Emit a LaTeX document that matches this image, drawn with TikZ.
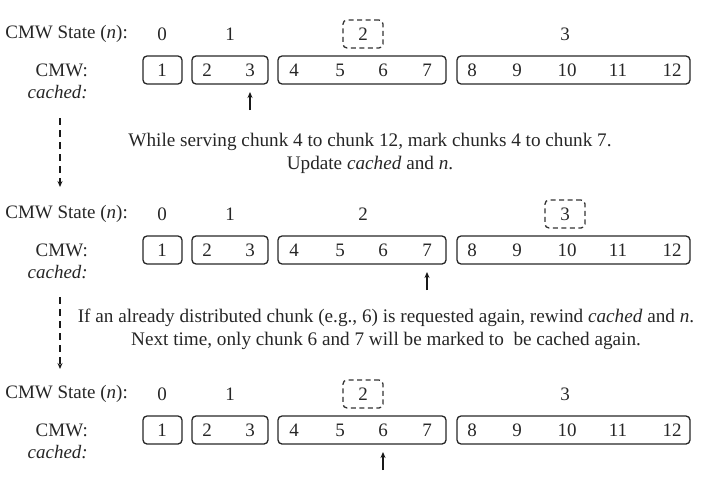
\documentclass[tikz,border=0pt]{standalone}
\usepackage{fontspec}
\setmainfont{Liberation Serif}
\usetikzlibrary{arrows.meta,calc}
\tikzset{
  lbl/.style={inner sep=0pt, font=\fontsize{19}{22}\selectfont, text=black!85},
  num/.style={lbl},
  chunkbox/.style={draw=black!85, line width=1.3pt, rounded corners=4pt, minimum height=28pt, inner sep=0pt},
  plain/.style={},
  dbox/.style={draw=black!80, dashed, dash pattern=on 5pt off 3.5pt, line width=1.3pt, rounded corners=4pt, minimum width=40pt, minimum height=28pt},
  uparr/.style={draw=black!90, line width=1.1pt, -{Stealth[length=6pt,width=5pt]}},
  darr/.style={draw=black!90, line width=1.1pt, dash pattern=on 7pt off 5pt, -{Stealth[length=6pt,width=5pt]}},
  note/.style={lbl, align=center, font=\fontsize{19.2}{23}\selectfont}
}
\newcommand\cmwrow[7]{%
\begin{scope}[shift={(0,#2)}]
  \node[lbl, anchor=east] (#1st) at (128,34) {CMW State (\textit{n}):};
  \node[lbl, anchor=east] (#1cmw) at (88,70) {CMW:};
  \node[lbl, anchor=east] (#1ca) at (88,92) {\textit{cached:}};
  \node[lbl,#3] (#1s0) at (162,34) {0};
  \node[lbl,#4] (#1s1) at (230,34) {1};
  \node[lbl,#5] (#1s2) at (363,34) {2};
  \node[lbl,#6] (#1s3) at (565,34) {3};
  \node[chunkbox, minimum width=39pt] (#1b1) at (162.5,70) {};
  \node[chunkbox, minimum width=76pt] (#1b2) at (230,70) {};
  \node[chunkbox, minimum width=168pt] (#1b3) at (362,70) {};
  \node[chunkbox, minimum width=233pt] (#1b4) at (573.5,70) {};
  \foreach \n/\x in {1/162,2/207,3/250,4/294,5/340,6/383,7/427,8/472,9/517,10/567,11/618,12/672}
    \node[num] (#1n\n) at (\x,70) {\n};
  \coordinate (#1tail) at ($(#1n#7)+(0,40)$);
  \coordinate (#1tip) at ($(#1n#7)+(0,22)$);
  \draw[uparr] (#1tail) -- (#1tip);
\end{scope}}
\begin{document}
\begin{tikzpicture}[x=1pt,y=-1pt]
\useasboundingbox (0,0) rectangle (702,482);
\cmwrow{a}{0}{plain}{plain}{dbox}{plain}{3}
\cmwrow{b}{180}{plain}{plain}{plain}{dbox}{7}
\cmwrow{c}{360}{plain}{plain}{dbox}{plain}{6}
\node[note] (t1) at (370,153.5) {While serving chunk 4 to chunk 12, mark chunks 4 to chunk 7.\\Update \textit{cached} and \textit{n}.};
\node[note] (t2) at (386,329.5) {If an already distributed chunk (e.g., 6) is requested again, rewind \textit{cached} and \textit{n}.\\Next time, only chunk 6 and 7 will be marked to\ \ be cached again.};
\coordinate (d1s) at (60,118);
\coordinate (d1e) at (60,187);
\coordinate (d2s) at (60,297);
\coordinate (d2e) at (60,369);
\draw[darr] (d1s) -- (d1e);
\draw[darr] (d2s) -- (d2e);
\end{tikzpicture}
\end{document}
